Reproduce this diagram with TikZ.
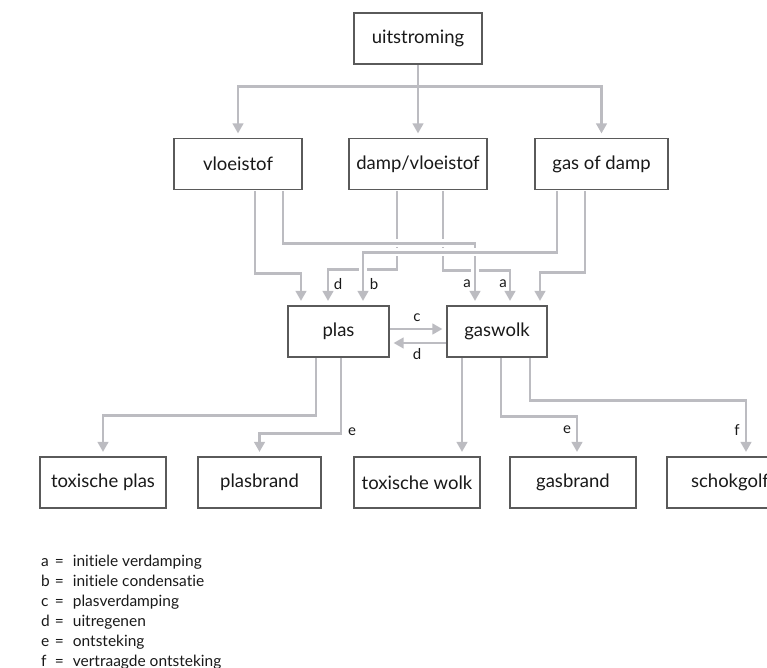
\documentclass[tikz,border=0pt]{standalone}
\usepackage{fontspec}
\setmainfont{Lato}[RawFeature={-liga;-dlig}]
\usetikzlibrary{arrows.meta}
\definecolor{linegray}{RGB}{188,188,193}
\definecolor{boxgray}{RGB}{90,90,90}
\definecolor{txt}{RGB}{25,25,25}
\tikzset{
  box/.style={draw=boxgray, line width=1.1pt, fill=white, minimum height=51pt, inner sep=0pt,
              font=\fontsize{18.5}{20}\selectfont, text=txt},
  conn/.style={draw=linegray, line width=2.9pt, -{Triangle[length=10pt,width=10.5pt]},
               shorten >=4.5pt, shorten <=0.8pt},
  cased/.style={conn, preaction={draw=white, line width=7.5pt, -}},
  lbl/.style={font=\fontsize{15}{15}\selectfont, text=txt, inner sep=0pt},
}
\begin{document}
\begin{tikzpicture}[x=1pt, y=-1pt]
\useasboundingbox (0,0) rectangle (767,668);
\clip (0,0) rectangle (767,668);
% boxes
\node[box, minimum width=128pt] (uit) at (418,38.5) {uitstroming};
\node[box, minimum width=128pt] (vloe) at (238,164) {vloeistof};
\node[box, minimum width=138pt] (damp) at (418,164) {damp/vloeistof};
\node[box, minimum width=133pt] (gas) at (601.5,164) {gas of damp};
\node[box, minimum width=101pt] (plas) at (338.5,331.5) {plas};
\node[box, minimum width=100pt] (wolk) at (497,331.5) {gaswolk};
\node[box, minimum width=126pt] (tp) at (103,482.5) {toxische plas};
\node[box, minimum width=123pt] (pb) at (259.5,482.5) {plasbrand};
\node[box, minimum width=126pt] (tw) at (417,482.5) {toxische wolk};
\node[box, minimum width=126pt] (gb) at (573,482.5) {gasbrand};
\node[box, minimum width=126pt] (sg) at (730,482.5) {schokgolf};
% top
\draw[conn] (uit.south) -- ++(0,22) -| (vloe.north);
\draw[conn] (uit.south) -- (damp.north);
\draw[conn] (uit.south) -- ++(0,22) -| (gas.north);
% middle: damp lines underneath
\draw[conn] ([xshift=-21]damp.south) -- ++(0,79) -| ([xshift=-10.5]plas.north);
\draw[conn] ([xshift=25]damp.south) -- ++(0,80) -| ([xshift=13]wolk.north);
\draw[conn] ([xshift=17]vloe.south) -- ++(0,83) -| ([xshift=-37.5]plas.north);
\draw[cased] ([xshift=45]vloe.south) -- ++(0,53) -| ([xshift=-22]wolk.north);
\draw[cased] ([xshift=-44.5]gas.south) -- ++(0,62) -| ([xshift=24.5]plas.north);
\draw[conn] ([xshift=-16.5]gas.south) -- ++(0,82) -| ([xshift=43]wolk.north);
\node[lbl] (ld1) at (338,284) {d};
\node[lbl] (lb) at (374,284) {b};
\node[lbl] (la1) at (467,284) {a};
\node[lbl] (la2) at (503,284) {a};
% plas <-> gaswolk
\draw[conn, shorten >=4pt] ([yshift=2.5]plas.east) -- ([yshift=2.5]wolk.west);
\draw[conn, shorten >=4pt] ([yshift=-11.5]wolk.west) -- ([yshift=-11.5]plas.east);
\node[lbl] (lc) at (417,318) {c};
\node[lbl] (ld2) at (417,354) {d};
% bottom
\draw[conn] ([xshift=-22.5]plas.south) -- ++(0,58) -| (tp.north);
\draw[conn] ([xshift=2.5]plas.south) -- ++(0,76) -| (pb.north);
\draw[conn] ([xshift=-35]wolk.south) -- ([xshift=-35]wolk.south |- tw.north);
\draw[conn] ([xshift=4]wolk.south) -- ++(0,59) -| ([xshift=4]gb.north);
\draw[conn] ([xshift=33]wolk.south) -- ++(0,43) -| ([xshift=16]sg.north);
\node[lbl] (le1) at (352,432) {e};
\node[lbl] (le2) at (567,430) {e};
\node[lbl] (lf) at (737,430) {f};
% legend
\node[anchor=base west, inner sep=0pt, font=\fontsize{15.5}{20}\selectfont, text=txt] (legend) at (41,566)
{\begin{tabular}[t]{@{}l@{\hspace{5pt}}l@{\hspace{9pt}}l@{}}
a & = & initiele verdamping\\
b & = & initiele condensatie\\
c & = & plasverdamping\\
d & = & uitregenen\\
e & = & ontsteking\\
f & = & vertraagde ontsteking
\end{tabular}};
\end{tikzpicture}
\end{document}
